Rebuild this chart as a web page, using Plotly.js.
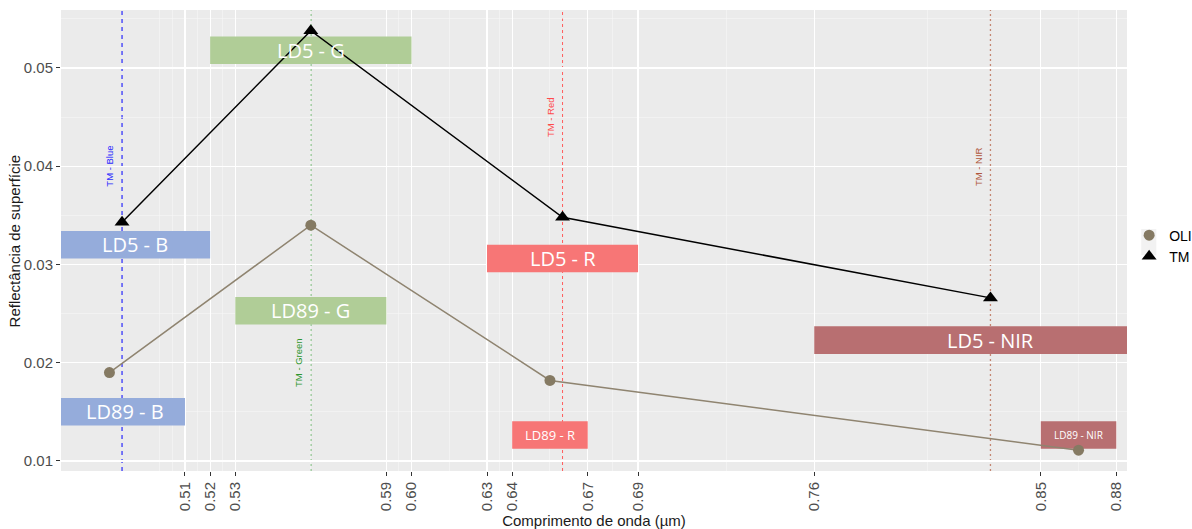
<!DOCTYPE html>
<html>
<head>
<meta charset="utf-8">
<script src="https://cdn.plot.ly/plotly-3.0.1.min.js"></script>
<style>
  html, body { margin: 0; padding: 0; background: #ffffff; }
  #chart { width: 1192px; height: 529px; }
</style>
</head>
<body>
<div id="chart"></div>
<script>
// Surface reflectance per sensor band centre (µm)
const oliWave = [0.48, 0.56, 0.655, 0.865];
const oliRefl = [0.0190, 0.0340, 0.0182, 0.0111];
const tmWave = [0.485, 0.56, 0.66, 0.83];
const tmRefl = [0.0343, 0.0538, 0.0348, 0.0266];

// Band windows (µm) and the reflectance level their tags sit at
const bandNames = ['LD5 - B', 'LD89 - B', 'LD5 - G', 'LD89 - G', 'LD5 - R', 'LD89 - R', 'LD5 - NIR', 'LD89 - NIR'];
const bandFrom = [0.45, 0.45, 0.52, 0.53, 0.63, 0.64, 0.76, 0.85];
const bandTo = [0.52, 0.51, 0.60, 0.59, 0.69, 0.67, 0.90, 0.88];
const bandLevel = [0.0320, 0.0150, 0.0518, 0.0253, 0.0306, 0.01265, 0.0223, 0.01265];
const bandTagX = [0.49, 0.486, 0.56, 0.56, 0.66, 0.655, 0.83, 0.865];

// TM band reference wavelengths
const tmRefNames = ['TM - Blue', 'TM - Green', 'TM - Red', 'TM - NIR'];
const tmRefWave = [0.485, 0.56, 0.66, 0.83];
const tmRefTagY = [0.040, 0.020, 0.045, 0.040];

// Axis ticks
const xTicks = [0.51, 0.52, 0.53, 0.59, 0.60, 0.63, 0.64, 0.67, 0.69, 0.76, 0.85, 0.88];
const xMinor = [0.50, 0.505, 0.515, 0.525, 0.56, 0.595, 0.615, 0.635, 0.655, 0.68, 0.725, 0.805, 0.865];
const yTicks = [0.01, 0.02, 0.03, 0.04, 0.05];
const yMinor = [0.015, 0.025, 0.035, 0.045, 0.055];

// Styling
const bandFill = ['#95acdb', '#95acdb', '#b0cd97', '#b0cd97', '#f77676', '#f77676', '#b86f71', '#b86f71'];
const bandFont = [20, 20, 20, 20, 20, 13, 20, 10];
const refLine = ['#0000ff', '#5eae5e', '#ff5c5c', '#c48672'];
const refDash = ['4px,4px', '2px,3px', '3px,3px', '2px,3px'];
const refWidth = [1, 1.3, 1, 1.3];
const refText = ['#2a2aff', '#2f962f', '#ff4a4a', '#b0573c'];
const oliColor = '#857a63';
const oliLine = '#8f8470';
const titleFont = { family: 'Liberation Sans, Arial, sans-serif', size: 15, color: '#1a1a1a' };

const shapes = [];
bandNames.forEach((n, i) => {
  shapes.push({
    type: 'rect', xref: 'x', yref: 'y', layer: 'between',
    x0: bandFrom[i], x1: bandTo[i],
    y0: bandLevel[i] - 0.0014, y1: bandLevel[i] + 0.0014,
    fillcolor: bandFill[i], line: { width: 0 }
  });
});
tmRefWave.forEach((w, i) => {
  shapes.push({
    type: 'line', xref: 'x', yref: 'paper', layer: 'between',
    x0: w, x1: w, y0: 0, y1: 1,
    line: { color: refLine[i], width: refWidth[i], dash: refDash[i] }
  });
});
// legend key background
shapes.push({
  type: 'rect', xref: 'paper', yref: 'paper', layer: 'below',
  x0: 1.0134, x1: 1.0275, y0: 0.468, y1: 0.525,
  fillcolor: '#f2f2f2', line: { width: 0 }
});

const annotations = [];
bandNames.forEach((n, i) => {
  annotations.push({
    x: bandTagX[i], y: bandLevel[i], xref: 'x', yref: 'y',
    text: n, showarrow: false,
    font: { family: 'Open Sans, sans-serif', size: bandFont[i], color: '#ffffff' },
    xanchor: 'center', yanchor: 'middle'
  });
});
tmRefNames.forEach((n, i) => {
  annotations.push({
    x: tmRefWave[i] - 0.005, y: tmRefTagY[i], xref: 'x', yref: 'y',
    text: n, showarrow: false, textangle: -90,
    font: { family: 'Liberation Sans, Arial, sans-serif', size: 9.5, color: refText[i] },
    xanchor: 'center', yanchor: 'middle'
  });
});
// y-axis title, set just left of the tick labels
annotations.push({
  x: -0.0432, y: 0.5, xref: 'paper', yref: 'paper',
  text: 'Reflectância de superfície', showarrow: false, textangle: -90,
  font: titleFont, xanchor: 'center', yanchor: 'middle'
});

const traces = [
  { x: oliWave, y: oliRefl, mode: 'lines', line: { color: oliLine, width: 1.5 },
    showlegend: false, hoverinfo: 'skip' },
  { x: tmWave, y: tmRefl, mode: 'lines', line: { color: '#000000', width: 1.5 },
    showlegend: false, hoverinfo: 'skip' },
  { x: oliWave, y: oliRefl, mode: 'markers', name: 'OLI',
    marker: { symbol: 'circle', size: 11, color: oliColor } },
  { x: tmWave, y: tmRefl, mode: 'markers', name: 'TM',
    marker: { symbol: 'triangle-up', size: 13, color: '#000000' } }
];

const axisFont = { family: 'Liberation Sans, Arial, sans-serif', size: 15, color: '#4d4d4d' };

const layout = {
  width: 1192, height: 529,
  margin: { l: 61, r: 65, t: 10, b: 58, autoexpand: false },
  paper_bgcolor: '#ffffff',
  plot_bgcolor: '#ebebeb',
  showlegend: true,
  legend: {
    x: 1.002, y: 0.488, xanchor: 'left', yanchor: 'middle',
    bgcolor: 'rgba(0,0,0,0)', itemwidth: 30, tracegroupgap: 0,
    font: { family: 'Liberation Sans, Arial, sans-serif', size: 14, color: '#000000' }
  },
  xaxis: {
    range: [0.46075, 0.88425],
    tickmode: 'array', tickvals: xTicks,
    ticktext: xTicks.map(v => v.toFixed(2)),
    tickangle: -90,
    tickfont: axisFont,
    ticks: 'outside', ticklen: 4, tickcolor: '#333333', tickwidth: 1,
    showgrid: true, gridcolor: '#ffffff', gridwidth: 1.1,
    minor: { tickmode: 'array', tickvals: xMinor, showgrid: true, gridcolor: '#f6f6f6', gridwidth: 0.6, ticks: '' },
    zeroline: false, showline: false, automargin: false,
    title: { text: 'Comprimento de onda (µm)', standoff: 5, font: titleFont }
  },
  yaxis: {
    range: [0.00898, 0.0559],
    tickmode: 'array', tickvals: yTicks,
    ticktext: yTicks.map(v => v.toFixed(2)),
    tickfont: axisFont,
    ticks: 'outside', ticklen: 4, tickcolor: '#333333', tickwidth: 1,
    showgrid: true, gridcolor: '#ffffff', gridwidth: 1.1,
    minor: { tickmode: 'array', tickvals: yMinor, showgrid: true, gridcolor: '#f6f6f6', gridwidth: 0.6, ticks: '' },
    zeroline: false, showline: false, automargin: false,
    title: { text: '' }
  },
  shapes: shapes,
  annotations: annotations
};

Plotly.newPlot('chart', traces, layout, { displayModeBar: false, staticPlot: true });
</script>
</body>
</html>
